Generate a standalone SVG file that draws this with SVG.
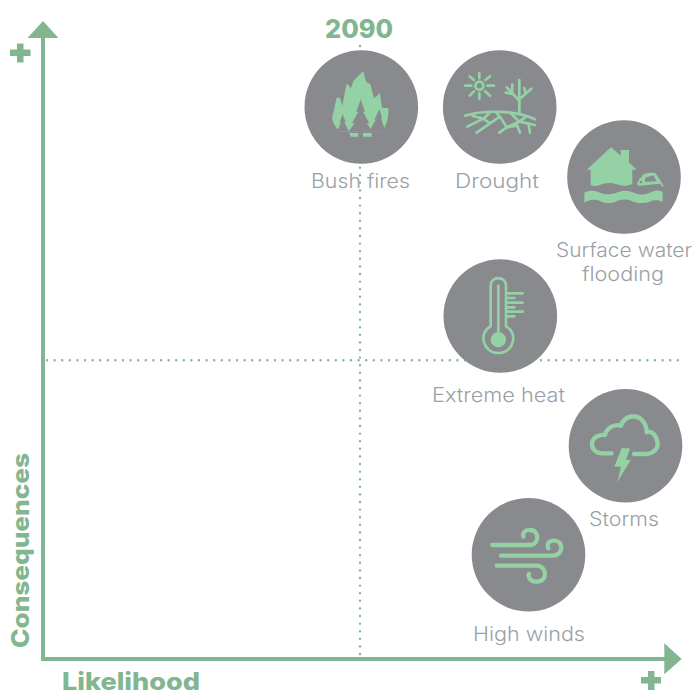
<svg xmlns="http://www.w3.org/2000/svg" width="694" height="693" viewBox="0 0 694 693">
<style>
.axis{fill:#82b690}
.axl{stroke:#82b690;stroke-width:4;fill:none}
.dots{stroke:#82b690;stroke-width:2.400;stroke-linecap:round;stroke-dasharray:0 7.600;fill:none}
.disc{fill:#898a8d}
.ic{fill:#94d1a5}
.ics{fill:none;stroke:#94d1a5;stroke-linecap:round;stroke-linejoin:round}
.gap{fill:#898a8d}
.lab{font-family:"Inter","Liberation Sans",sans-serif;font-weight:300;font-size:19.500px;fill:#9aa1a6}
.hd{font-family:"Inter","Liberation Sans",sans-serif;font-weight:800;fill:#82b690}
</style>
<g id="connectors">
<path class="dots" d="M360 46V655"/>
<path class="dots" d="M47 360.300H678"/>
<path class="axl" d="M43 36V659H666"/>
<polygon class="axis" points="43,21 58.500,38 27.500,38"/>
<polygon class="axis" points="681.700,659 664.300,643.300 664.300,674.300"/>
</g>
<g id="axis-labels">
<text class="hd" x="325" y="37.500" font-size="25.500" textLength="68" lengthAdjust="spacingAndGlyphs">2090</text>
<text class="hd" x="62" y="690" font-size="24" textLength="138" lengthAdjust="spacingAndGlyphs">Likelihood</text>
<text class="hd" transform="translate(28.500 648) rotate(-90)" font-size="24" textLength="195" lengthAdjust="spacingAndGlyphs">Consequences</text>
<path class="axis" d="M17 43.500h6.500v6h7v6.500h-7v6.500h-6.500v-6.500h-7v-6.500h7z"/>
<path class="axis" d="M648 671h6.500v6h6.500v6.500h-6.500v6.500h-6.500v-6.500h-7v-6.500h7z"/>
</g>
<g id="bush-fires">
<circle class="disc" cx="361.300" cy="107" r="56.800"/>
<g transform="translate(325 65) scale(.3333)">
<path class="ic" d="M115 18L123 50L136 58L147 100L165 85L171 128L190 130C192 150 186 180 172 200H45C30 185 20 170 22 155L35 98L45 98L52 122L65 55L78 70L85 48Z"/>
<path class="gap" d="M107 103L120 140H114L133 175H125L142 200H113V203H100V200H70L89 175H81L100 140H94Z"/>
<path class="gap" d="M53 148L62 172H58L72 200H36L48 172H44Z"/>
<path class="gap" d="M163 133L172 160H168L182 200H132L152 165H148Z"/>
<path class="ic" d="M72 204H100V215H78ZM114 204H140V215H114Z"/>
</g>
<text class="lab" x="311" y="188" textLength="99" lengthAdjust="spacingAndGlyphs">Bush fires</text>
</g>
<g id="drought">
<circle class="disc" cx="499.700" cy="107" r="56.800"/>
<g transform="translate(460 70) scale(.3333)" class="ics" stroke-width="8">
<circle cx="58" cy="47" r="12"/>
<path d="M16 47H34M82 47H102M58 9V25M58 69V87M29 19L42 30M75 64L90 77M90 19L76 30M42 64L29 77"/>
<path d="M178 30V128M178 92L140 52M158 72L137 68M156 68L157 44M178 88L214 56M197 72L193 54"/>
<path d="M15 137C70 120 165 120 225 148M38 138L70 146L22 170M70 146L92 126M70 146L90 160L50 188M90 160L120 140L105 125M120 140L140 172L118 188M140 172L178 155L150 128M178 155L225 165M178 155L198 140M170 162L180 188M205 160L210 188M140 172L165 168"/>
</g>
<text class="lab" x="455" y="187.500" textLength="84" lengthAdjust="spacingAndGlyphs">Drought</text>
</g>
<g id="surface-water-flooding">
<circle class="disc" cx="624" cy="177" r="56.800"/>
<g transform="translate(550 115) scale(.3333)">
<path class="ic" d="M183 97L212 122V105H237V142L260 164H247V206C232 214 215 214 200 208C182 202 165 204 150 210C140 214 130 214 122 210V164H110Z"/>
<path class="ic" d="M103 233C120 224 135 226 150 233C170 241 190 238 205 231C225 224 240 228 255 235C275 242 290 238 305 231C318 225 328 226 338 230V261C325 254 312 255 300 260C280 267 262 265 245 258C228 251 212 253 197 260C180 267 165 265 150 258C135 252 118 254 103 263Z"/>
</g>
<g transform="translate(630 165) scale(.3333)">
<path class="ic" d="M22 60C20 48 32 42 38 30C42 24 70 20 78 26L90 44L102 64L95 64L91 56L28 62Z"/>
<path class="gap" d="M46 38L70 31L80 49L44 50Z"/>
<circle class="gap" cx="33" cy="51" r="4"/>
</g>
<text class="lab" x="556" y="257" textLength="136" lengthAdjust="spacingAndGlyphs">Surface water</text>
<text class="lab" x="582" y="280.500" textLength="82" lengthAdjust="spacingAndGlyphs">flooding</text>
</g>
<g id="extreme-heat">
<circle class="disc" cx="500.300" cy="316" r="56.800"/>
<g transform="translate(425 255) scale(.3333)">
<path class="ics" stroke-width="8" d="M197 214V92C197 62 243 62 243 92V214C280 232 268 294 220 294C172 294 160 232 197 214Z"/>
<path class="ics" stroke-width="8" d="M220 92V250M246 115H293M246 129H268M246 143H293M246 157H268M246 170H293M246 184H268"/>
<circle class="ic" cx="220" cy="254" r="23"/>
</g>
<text class="lab" x="432" y="401.500" textLength="133" lengthAdjust="spacingAndGlyphs">Extreme heat</text>
</g>
<g id="storms">
<circle class="disc" cx="625.500" cy="445.700" r="56.800"/>
<g transform="translate(465 385) scale(.3333)">
<path class="ics" stroke-width="13" d="M440 205H410C385 205 378 182 382 170C386 155 405 148 420 150C425 128 450 116 468 122C478 90 522 82 540 118C545 128 545 135 545 142C565 135 578 160 578 178C578 195 560 207 545 207H507"/>
<path class="ic" d="M470 190H495L483 225H497L457 292L468 245H448Z"/>
</g>
<text class="lab" x="589" y="525.500" textLength="70" lengthAdjust="spacingAndGlyphs">Storms</text>
</g>
<g id="high-winds">
<circle class="disc" cx="528.500" cy="554.700" r="56.800"/>
<g transform="translate(465 385) scale(.3333)" class="ics" stroke-width="13">
<path d="M82 480H195C222 480 226 435 195 435C180 433 172 445 175 455"/>
<path d="M108 512H265C296 510 298 465 265 467C250 467 245 480 250 490"/>
<path d="M95 542H215C246 542 250 590 215 590C195 590 188 575 192 567"/>
</g>
<text class="lab" x="473" y="641" textLength="112" lengthAdjust="spacingAndGlyphs">High winds</text>
</g>
</svg>
